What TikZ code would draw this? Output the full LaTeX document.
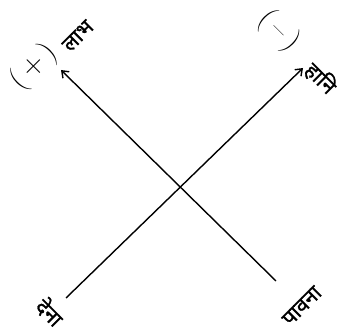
\documentclass[tikz,border=0pt]{standalone}
\usepackage{fontspec}
\newfontfamily\deva[Script=Devanagari,FakeBold=1.2]{Noto Sans}
\usetikzlibrary{arrows.meta}
\tikzset{
  conn/.style={line width=1.4pt, -{Straight Barb[length=6pt,width=9pt]}},
  word/.style={font=\deva\fontsize{21}{21}\selectfont, inner sep=0pt},
  sign/.style={font=\fontsize{30}{30}\selectfont, inner sep=0pt}
}
\begin{document}
\begin{tikzpicture}[x=1pt,y=-1pt]
\useasboundingbox (0,0) rectangle (340,336);
\coordinate (s1) at (276,281);
\coordinate (e1) at (61,70);
\coordinate (s2) at (66,298);
\coordinate (e2) at (303,68);
\draw[conn] (s1) -- (e1);
\draw[conn] (s2) -- (e2);
\node[sign, rotate=45] (plus) at (34,67) {(\,+\,)};
\node[sign, rotate=-45] (minus) at (279,31) {(\,\textendash\,)};
\node[word, rotate=45] (labha) at (78,36) {लाभ};
\node[word, rotate=-45] (hani) at (321,78) {हानि};
\node[word, rotate=-45] (dena) at (50,312) {देना};
\node[word, rotate=45] (pawana) at (302,306) {पावना};
\end{tikzpicture}
\end{document}
